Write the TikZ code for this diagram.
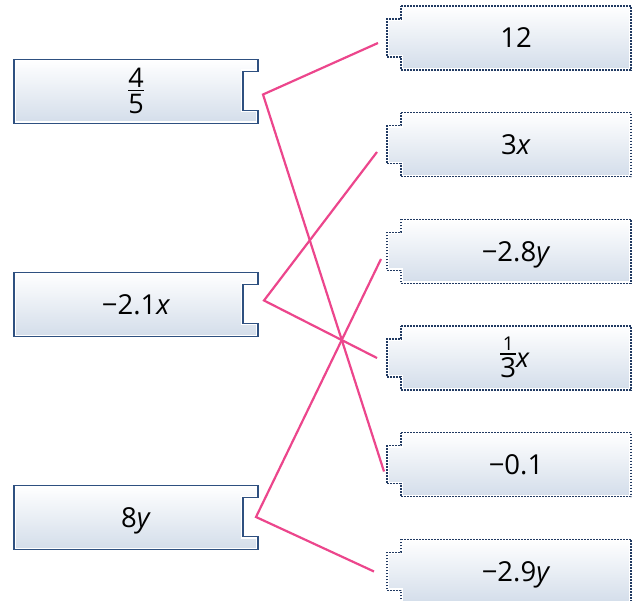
\documentclass[tikz,border=0pt]{standalone}
\usepackage{fontspec}
\setmainfont{Open Sans}
\usepackage{tikz}
\usetikzlibrary{calc}
\usepackage{xcolor}

\definecolor{leftblue}{RGB}{46,80,128}
\definecolor{rightblue}{RGB}{33,58,98}
\definecolor{boxshade}{RGB}{211,221,234}
\definecolor{linkpink}{RGB}{236,70,140}

% stacked fraction: #1 raise, #2 numerator, #3 denominator
\newcommand\frc[3]{\raisebox{#1}{\vbox{\halign{\hfil##\hfil\cr #2\cr\noalign{\kern2.8pt\hrule height1.3pt\kern3pt}#3\cr}}}}

\begin{document}
\begin{tikzpicture}[
  x=1pt, y=-1pt,
  boxfill/.style={top color=white, bottom color=boxshade},
  halo/.style={draw=white, line width=4pt},
  leftedge/.style={draw=leftblue, line width=1.6pt},
  rightedge/.style={draw=rightblue, line width=1.4pt, dash pattern=on 1.7pt off 1.3pt},
  term/.style={inner sep=0pt, font=\fontsize{27.5}{32}\selectfont, text height=19.6pt, text depth=0pt},
  fracterm/.style={inner sep=0pt},
  link/.style={draw=linkpink, line width=2.2pt}
]
\useasboundingbox (0,0) rectangle (634,601);

% Left column (notch on the right)
\foreach \y in {59.5,272.5,485.5}{
  \path[boxfill] (14,\y) -- ++(244,0) -- ++(0,12) -- ++(-15,0) -- ++(0,39) -- ++(15,0) -- ++(0,13) -- ++(-244,0) -- cycle;
  \draw[halo] (14,\y) -- ++(244,0) -- ++(0,12) -- ++(-15,0) -- ++(0,39) -- ++(15,0) -- ++(0,13) -- ++(-244,0) -- cycle;
  \draw[leftedge] (14,\y) -- ++(244,0) -- ++(0,12) -- ++(-15,0) -- ++(0,39) -- ++(15,0) -- ++(0,13) -- ++(-244,0) -- cycle;
}

% Right column (notch on the left, dotted)
\foreach \y in {6,112.7,219.3,326,432.7,539.3}{
  \path[boxfill] (401,\y) -- ++(230,0) -- ++(0,64) -- ++(-230,0) -- ++(0,-13) -- ++(-14,0) -- ++(0,-38) -- ++(14,0) -- cycle;
  \draw[halo] (401,\y) -- ++(230,0) -- ++(0,64) -- ++(-230,0) -- ++(0,-13) -- ++(-14,0) -- ++(0,-38) -- ++(14,0) -- cycle;
  \draw[rightedge] (401,\y) -- ++(230,0) -- ++(0,64) -- ++(-230,0) -- ++(0,-13) -- ++(-14,0) -- ++(0,-38) -- ++(14,0) -- cycle;
}

% Terms
\node[fracterm] (fourfifths) at (136,91) {\fontsize{27}{30}\selectfont\frc{0pt}{4}{5}};
\node[term] (minustwoone) at (136,304.5) {−2.1\textit{x}};
\node[term] (eighty) at (136,517.5) {8\textit{y}};

\node[term] (twelve) at (516,38) {12};
\node[term] (threex) at (516,144.7) {3\textit{x}};
\node[term] (minustwoeight) at (516,251.3) {−2.8\textit{y}};
\node[fracterm] (thirdx) at (515,357.3) {\frc{-10.3pt}{\fontsize{19}{21}\selectfont 1}{\fontsize{27.5}{30}\selectfont 3}\fontsize{27}{30}\selectfont\textit{x}};
\node[term] (minuspointone) at (516,464.7) {−0.1};
\node[term] (minustwonine) at (516,571.3) {−2.9\textit{y}};

% Ports
\coordinate (fourfifths-port) at (263,94.5);
\coordinate (minustwoone-port) at (264,300.5);
\coordinate (eighty-port) at (256,517);
\coordinate (twelve-port) at (378,43);
\coordinate (threex-port) at (377,152);
\coordinate (minustwoeight-port) at (381,259);
\coordinate (thirdx-port) at (377,358);
\coordinate (minuspointone-port) at (384,471.5);
\coordinate (minustwonine-port) at (374,571.5);

% Matches
\draw[link] (twelve-port) -- (fourfifths-port) -- (minuspointone-port);
\draw[link] (threex-port) -- (minustwoone-port) -- (thirdx-port);
\draw[link] (minustwoeight-port) -- (eighty-port) -- (minustwonine-port);

\end{tikzpicture}
\end{document}
